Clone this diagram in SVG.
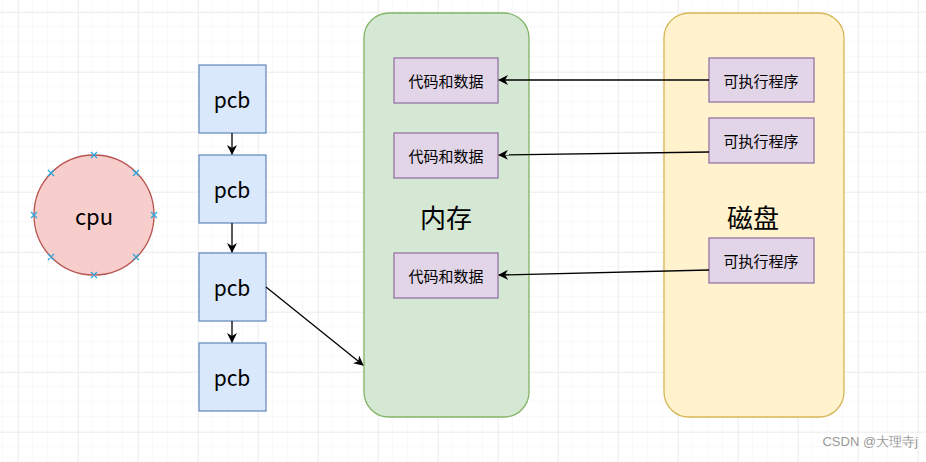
<svg xmlns="http://www.w3.org/2000/svg" width="926" height="462" viewBox="0 0 926 462">
<defs>
<pattern id="gm" width="15" height="15" patternUnits="userSpaceOnUse" x="3" y="12"><path d="M15 0V15M0 15H15" fill="none" stroke="#f3f3f3" stroke-width="1"/></pattern>
<pattern id="gM" width="60" height="60" patternUnits="userSpaceOnUse" x="18" y="12"><path d="M0 0V60M0 0H60" fill="none" stroke="#e4e4e4" stroke-width="1"/></pattern>
<marker id="ah" viewBox="0 0 10 10" refX="9" refY="5" markerWidth="10" markerHeight="10" markerUnits="userSpaceOnUse" orient="auto"><path d="M0 0L10 5L0 10L3 5Z" fill="#000"/></marker>
</defs>
<style>
.pcb{fill:#dae8fc;stroke:#6c8ebf;stroke-width:1.3}
.pu{fill:#e1d5e7;stroke:#9673a6;stroke-width:1.3}
.t{font-family:"Noto Sans CJK SC","Liberation Sans",sans-serif;fill:#000;text-anchor:middle;dominant-baseline:central}
.c{stroke:#000;stroke-width:1.3;fill:none;marker-end:url(#ah)}
.x{stroke:#29a8e0;stroke-width:1.3}
</style>
<rect width="926" height="462" fill="#fff"/>
<rect width="926" height="462" fill="url(#gm)"/>
<rect width="926" height="462" fill="url(#gM)"/>
<g id="cpu">
<circle cx="94" cy="215" r="60" fill="#f8cecc" stroke="#b85450" stroke-width="1.3"/>
<text class="t" x="94" y="215" font-size="22">cpu</text>
<g class="x">
<path d="M91 152l6 6M97 152l-6 6M91 272l6 6M97 272l-6 6M31 212l6 6M37 212l-6 6M151 212l6 6M157 212l-6 6M48 170l6 6M54 170l-6 6M133 170l6 6M139 170l-6 6M48 254l6 6M54 254l-6 6M133 254l6 6M139 254l-6 6"/>
</g>
</g>
<g id="mem"><rect x="364" y="13" width="165" height="404" rx="25" fill="#d5e8d4" stroke="#82b366" stroke-width="1.3"/><text class="t" x="446" y="216" font-size="26">内存</text></g>
<g id="disk"><rect x="664" y="13" width="180" height="404" rx="25" fill="#fff2cc" stroke="#d6b656" stroke-width="1.3"/><text class="t" x="753" y="216" font-size="26">磁盘</text></g>
<g id="pcb1"><rect class="pcb" x="199" y="65" width="67" height="68"/><text class="t" x="232" y="99" font-size="21">pcb</text></g>
<g id="pcb2"><rect class="pcb" x="199" y="155" width="67" height="68"/><text class="t" x="232" y="189" font-size="21">pcb</text></g>
<g id="pcb3"><rect class="pcb" x="199" y="253" width="67" height="68"/><text class="t" x="232" y="287" font-size="21">pcb</text></g>
<g id="pcb4"><rect class="pcb" x="199" y="343" width="67" height="68"/><text class="t" x="232" y="377" font-size="21">pcb</text></g>
<g id="d1"><rect class="pu" x="394" y="58" width="104" height="45"/><text class="t" x="446" y="80" font-size="15">代码和数据</text></g>
<g id="d2"><rect class="pu" x="394" y="133" width="104" height="45"/><text class="t" x="446" y="155" font-size="15">代码和数据</text></g>
<g id="d3"><rect class="pu" x="394" y="253" width="104" height="45"/><text class="t" x="446" y="275" font-size="15">代码和数据</text></g>
<g id="e1"><rect class="pu" x="709" y="58" width="105" height="44"/><text class="t" x="761" y="80" font-size="15">可执行程序</text></g>
<g id="e2"><rect class="pu" x="709" y="118" width="105" height="45"/><text class="t" x="761" y="140" font-size="15">可执行程序</text></g>
<g id="e3"><rect class="pu" x="709" y="238" width="105" height="45"/><text class="t" x="761" y="260" font-size="15">可执行程序</text></g>
<g id="connectors">
<path class="c" d="M232 133V154"/>
<path class="c" d="M232 223V252"/>
<path class="c" d="M232 321V342"/>
<path class="c" d="M266 287L363 365"/>
<path class="c" d="M709 80H499"/>
<path class="c" d="M709 152L499 155"/>
<path class="c" d="M709 270L499 275"/>
</g>
<text x="918" y="446" font-family="Liberation Sans,sans-serif" font-size="13" fill="#999" text-anchor="end">CSDN @大理寺j</text>
</svg>
